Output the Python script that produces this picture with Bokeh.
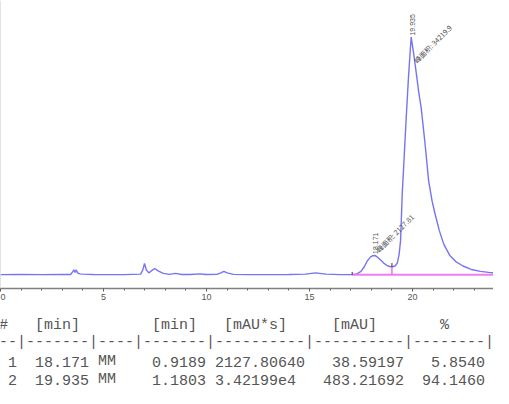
import re
import numpy as np
from bokeh.plotting import figure
from bokeh.layouts import column
from bokeh.models import Range1d, FixedTicker, Span, ColumnDataSource
from bokeh.core.properties import value
from bokeh.embed import file_html
from bokeh.resources import INLINE

# ---------------- chromatogram trace ----------------
time_min = [
    0.0, 1.0, 2.0, 3.0, 3.4, 3.5, 3.56, 3.62, 3.68, 3.74, 3.85, 4.0, 4.5, 5.0,
    6.0, 6.8, 6.9, 6.99, 7.08, 7.2, 7.35, 7.49, 7.65, 7.9, 8.2, 8.5, 8.8, 9.2,
    9.7, 9.95, 10.5, 10.7, 10.84, 11.0, 11.3, 12.0, 13.0, 14.0, 14.8, 15.3,
    15.8, 16.5, 17.07, 17.3, 17.5, 17.65, 17.8, 17.95, 18.07, 18.17, 18.3,
    18.45, 18.6, 18.8, 19.0, 19.15, 19.26, 19.35, 19.42, 19.5, 19.6, 19.7,
    19.8, 19.87, 19.935, 20.05, 20.2, 20.3, 20.42, 20.6, 20.78, 20.95, 21.07,
    21.3, 21.52, 21.8, 22.1, 22.45, 22.85, 23.3, 23.7, 24.2, 24.71,
]
signal_mau = [
    0.5, 0.8, 0.5, 0.8, 0.8, 6, 10, 5, 10, 4, 2, 1.5, 0.8, 0.5,
    0.5, 1.5, 9, 23, 10, 4, 9, 13, 8, 3, 1, 3, 0.8, 0.8,
    2, 0.8, 1, 4, 7, 4, 1, 0.5, 0.5, 0.8, 1.5, 4,
    1.5, 0.5, 0.5, 2, 7, 16, 28, 36, 39, 39.5, 36,
    30, 24, 18, 16, 18, 24, 42, 70, 165, 245, 325,
    400, 445, 484, 452, 405, 372, 340, 270, 192, 150, 128,
    90, 62, 40, 27, 18, 11, 7, 5, 3, 2,
]

# ---------------- peak table ----------------
peak_no = [1, 2]
ret_time = [18.171, 19.935]
peak_type = ["MM", "MM"]
peak_width = [0.9189, 1.1803]
peak_area_txt = ["2127.80640", "3.42199e4"]
peak_height = [38.59197, 483.21692]
area_pct = [5.8540, 94.1460]
area_label = ["峰面积: 2127.81", "峰面积: 34219.9"]

# integration events
baseline_start = 17.07
baseline_end = 24.71
valley_time = 19.0
valley_mau = 16.0

x_ticks = [0, 5, 10, 15, 20, 25]
x_minor = list(range(0, 26))
header_line = "#   [min]        [min]   [mAU*s]     [mAU]       %"
sep_line = "--|-------|----|-------|----------|----------|--------|"

# ---------------- chart ----------------
W = 493
CH = 312
p = figure(width=W, height=CH,
           x_range=Range1d(0, 23.93), y_range=Range1d(-27.8, 558.6),
           output_backend="svg", toolbar_location=None,
           min_border=0, min_border_left=0, min_border_right=0,
           min_border_top=0, min_border_bottom=24)
p.outline_line_color = None
p.grid.visible = False
p.yaxis.visible = False
p.background_fill_color = "white"

ax = p.xaxis[0]
ax.ticker = FixedTicker(ticks=x_ticks, minor_ticks=x_minor)
ax.axis_line_color = "#808080"
ax.axis_line_width = 1.5
ax.major_tick_in = 0
ax.major_tick_out = 3
ax.minor_tick_in = 0
ax.minor_tick_out = 2
ax.major_tick_line_color = "#555555"
ax.minor_tick_line_color = "#666666"
ax.major_label_text_font = "Liberation Sans"
ax.major_label_text_font_size = "9px"
ax.major_label_text_color = "#555555"
ax.major_label_standoff = 2

p.add_layout(Span(location=0, dimension="height", line_color="#c8c8c8", line_width=1))

p.line(time_min, signal_mau, line_color="#5c5cf2", line_width=1.4, line_alpha=0.85)

# baseline and drop line
p.line([baseline_start, baseline_end], [0, 0], line_color="#f070f0", line_width=2, line_alpha=0.9)
p.segment(x0=[valley_time], y0=[0], x1=[valley_time], y1=[valley_mau],
          line_color="#f070f0", line_width=1.5)
p.segment(x0=[baseline_start, valley_time], y0=[0, valley_mau],
          x1=[baseline_start, valley_time], y1=[6, valley_mau + 8],
          line_color="#333333", line_width=1)

rt_src = ColumnDataSource(dict(x=ret_time, y=peak_height,
                               t=[f"{r:.3f}" for r in ret_time]))
p.text(x="x", y="y", text="t", source=rt_src, angle=np.pi / 2,
       text_align="left", text_baseline="middle",
       text_font=value("Liberation Sans"), text_font_size="7px",
       text_color="#505050", x_offset=1, y_offset=-2)

ar_src = ColumnDataSource(dict(x=ret_time, y=peak_height, t=area_label,
                               dx=[2.5, 4], dy=[-5, 24]))
p.text(x="x", y="y", text="t", source=ar_src, angle=np.pi / 4,
       text_align="left", text_baseline="middle",
       text_font=value("Noto Sans CJK SC"), text_font_size="7px",
       text_color="#505050", x_offset="dx", y_offset="dy")

# ---------------- table ----------------
rows = [header_line, sep_line]
for n, rt, ty, wd, ar, ht, pc in zip(peak_no, ret_time, peak_type, peak_width,
                                     peak_area_txt, peak_height, area_pct):
    rows.append(f"{n:>2} {rt:>7.3f} {ty:<4} {wd:>7.4f} {ar:<10} {ht:>10.5f} {pc:>8.4f}")
row_baseline = [13, 30, 49, 67]

fs = 15
cw = 0.6 * fs
xs, ys, ts = [], [], []
for line, yy in zip(rows, row_baseline):
    for m in re.finditer(r"\S+", line):
        xs.append(-1.5 + m.start() * cw)
        ys.append(yy)
        ts.append(m.group(0))

TH = 76
t = figure(width=W, height=TH, x_range=Range1d(0, W), y_range=Range1d(TH, 0),
           output_backend="svg", toolbar_location=None,
           min_border=0, min_border_left=0, min_border_right=0,
           min_border_top=0, min_border_bottom=0)
t.axis.visible = False
t.grid.visible = False
t.outline_line_color = None
t.text(x=xs, y=ys, text=ts, text_align="left", text_baseline="alphabetic",
       text_font=value("Liberation Mono"), text_font_size=f"{fs}px",
       text_color="#555555")

layout = column(p, t, spacing=0)
open("out.html", "w").write(file_html(layout, INLINE))
